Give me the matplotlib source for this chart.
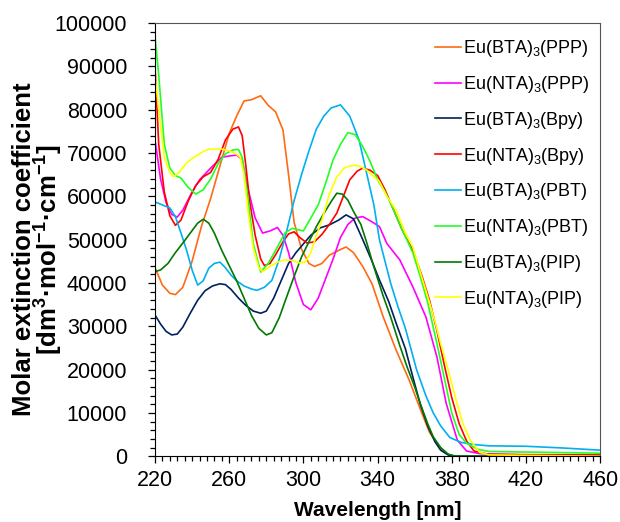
import matplotlib
matplotlib.use('Agg')
import matplotlib.pyplot as plt
from matplotlib.ticker import MultipleLocator

plt.rcParams['font.family'] = ['Liberation Sans', 'DejaVu Sans']
plt.rcParams['mathtext.fontset'] = 'custom'
plt.rcParams['mathtext.rm'] = 'Liberation Sans'
plt.rcParams['mathtext.bf'] = 'Liberation Sans:bold'

# values (wavelength nm, epsilon)
bta_ppp_x = [220, 224, 228, 231, 235, 240, 245, 250, 255, 260, 264, 268, 272, 277, 281, 285, 289, 292, 295, 299,
             303, 306, 310, 314, 319, 323, 327, 332, 337, 343, 350, 357, 364, 368, 372, 376, 379, 383, 390, 460]
bta_ppp_y = [43500, 39500, 37600, 37300, 39000, 45000, 53000, 59500, 67000, 74500, 78500, 82000, 82300, 83200,
             81000, 79500, 75300, 65000, 54000, 47800, 44500, 43800, 44500, 46400, 47500, 48300, 47000, 43800,
             39800, 32200, 24500, 17600, 9800, 5500, 2900, 1000, 200, 0, 0, 0]

nta_ppp_x = [220, 223, 226, 229, 232, 235, 240, 244, 250, 256, 260, 264, 267, 270, 274, 278, 282, 286, 289, 292,
             296, 300, 304, 308, 312, 316, 320, 324, 328, 332, 337, 341, 345, 352, 359, 366, 372, 377, 383, 388,
             395, 420, 460]
nta_ppp_y = [73000, 64000, 58500, 55800, 55200, 56800, 61000, 63800, 66500, 69000, 69300, 69500, 68500, 62000,
             55000, 51500, 52000, 52800, 51000, 47000, 40000, 35000, 33800, 36500, 41000, 45500, 50500, 53500,
             55000, 55300, 54100, 53000, 49100, 45300, 39100, 32200, 22900, 12200, 3700, 1200, 600, 300, 100]

bta_bpy_x = [220, 223, 226, 229, 232, 235, 239, 243, 247, 251, 255, 258, 261, 265, 269, 273, 277, 280, 284, 288,
             292, 296, 300, 304, 309, 314, 319, 323, 327, 332, 337, 341, 346, 350, 355, 359, 363, 367, 371, 374,
             378, 382, 460]
bta_bpy_y = [32600, 30500, 28800, 28000, 28200, 29800, 33000, 36000, 38200, 39300, 39800, 39600, 38500, 36500,
             34800, 33500, 33000, 33500, 36500, 40500, 44500, 47000, 49000, 51000, 52700, 53400, 54500, 55700,
             54800, 50000, 45000, 40700, 35700, 30700, 24800, 18300, 12000, 7000, 3300, 1400, 300, 0, 0]

nta_bpy_x = [220, 222, 225, 228, 231, 234, 238, 242, 246, 250, 254, 258, 262, 265, 267, 269, 271, 274, 277, 279,
             282, 285, 289, 292, 295, 298, 302, 306, 310, 314, 318, 322, 325, 329, 332, 336, 340, 344, 348, 353,
             359, 364, 368, 372, 376, 380, 384, 388, 392, 400, 460]
nta_bpy_y = [90000, 72000, 61000, 55500, 53300, 54500, 59000, 62500, 64500, 65500, 68500, 73000, 75500, 76000,
             74000, 67000, 59000, 51000, 45500, 44000, 44500, 46500, 49500, 51300, 51800, 50500, 49200, 49500,
             51200, 53500, 56100, 60500, 63800, 65800, 66500, 66000, 64800, 61500, 57500, 52500, 47500, 41500,
             36000, 29000, 21000, 13500, 7500, 3500, 1200, 400, 300]

bta_pbt_x = [220, 224, 228, 231, 234, 237, 240, 243, 246, 249, 252, 255, 258, 261, 264, 268, 272, 275, 279, 283,
             287, 291, 295, 299, 303, 307, 311, 315, 320, 325, 330, 334, 338, 341, 344, 347, 351, 355, 361, 366,
             370, 374, 379, 385, 392, 400, 420, 440, 460]
bta_pbt_y = [58700, 58000, 57300, 55300, 51500, 47600, 43000, 39500, 40500, 43400, 44500, 44800, 43500, 41800,
             40500, 39300, 38600, 38300, 39000, 40600, 45500, 52000, 59000, 65000, 70500, 75500, 78500, 80400,
             81100, 78500, 73000, 65500, 58000, 50000, 45000, 40000, 34500, 29500, 20000, 14000, 10000, 7000,
             4300, 3200, 2700, 2400, 2300, 1900, 1400]

nta_pbt_x = [220, 222, 225, 228, 231, 234, 238, 242, 246, 250, 254, 258, 262, 265, 267, 270, 273, 277, 281, 285,
             290, 294, 297, 300, 304, 308, 312, 316, 320, 324, 328, 332, 336, 340, 344, 348, 353, 359, 363, 367,
             372, 376, 380, 384, 388, 394, 400, 430, 460]
nta_pbt_y = [97000, 88000, 72000, 66500, 64800, 64200, 62000, 60500, 61500, 64000, 67500, 69800, 70700, 70800,
             69000, 60000, 49000, 42500, 44500, 47500, 51500, 52600, 52300, 52000, 55000, 58000, 63000, 68400,
             72000, 74700, 74200, 71500, 68000, 63800, 61000, 57500, 52500, 47000, 41500, 35500, 26000, 18000,
             10000, 5000, 3000, 1600, 1100, 900, 700]

bta_pip_x = [220, 223, 227, 231, 235, 239, 243, 246, 249, 252, 256, 260, 264, 268, 272, 276, 280, 283, 287, 291,
             295, 299, 303, 307, 311, 315, 318, 321, 324, 327, 331, 334, 338, 343, 347, 352, 356, 360, 363, 367,
             370, 374, 378, 382, 460]
bta_pip_y = [42600, 43000, 44500, 47000, 49200, 51500, 53800, 54700, 53800, 51500, 47500, 44000, 40500, 36500,
             32500, 29500, 28000, 28500, 32000, 36800, 41500, 46000, 49500, 53000, 56000, 58800, 60700, 60500,
             59100, 56500, 53500, 49500, 43700, 37000, 32200, 25500, 20500, 16000, 12200, 7500, 4500, 2000, 500,
             0, 0]

nta_pip_x = [220, 222, 225, 228, 230, 233, 237, 241, 246, 249, 253, 256, 260, 263, 266, 268, 270, 273, 276, 278,
             282, 286, 290, 294, 298, 301, 304, 307, 310, 314, 318, 322, 325, 328, 331, 334, 338, 341, 345, 350,
             355, 359, 363, 368, 371, 374, 378, 382, 386, 390, 395, 400, 460]
nta_pip_y = [88000, 80000, 69000, 65500, 64500, 65500, 67700, 69000, 70300, 70900, 70900, 70900, 70500, 70000,
             69000, 65000, 57000, 48000, 43500, 42600, 43800, 44800, 45300, 45200, 44600, 44800, 47000, 51000,
             54500, 60500, 64500, 66500, 67000, 67200, 66800, 66100, 64500, 63400, 60000, 56800, 51500, 48300,
             42500, 35500, 31000, 26000, 20000, 13500, 7500, 3700, 900, 300, 0]

x_ticks = [220, 260, 300, 340, 380, 420, 460]

names = ['Eu(BTA)$_3$(PPP)', 'Eu(NTA)$_3$(PPP)', 'Eu(BTA)$_3$(Bpy)', 'Eu(NTA)$_3$(Bpy)',
         'Eu(BTA)$_3$(PBT)', 'Eu(NTA)$_3$(PBT)', 'Eu(BTA)$_3$(PIP)', 'Eu(NTA)$_3$(PIP)']
colors = ['#FF6A13', '#FF00FF', '#002060', '#FF0000', '#00B0F0', '#22FF22', '#007A00', '#FFFF00']
series = [(bta_ppp_x, bta_ppp_y), (nta_ppp_x, nta_ppp_y), (bta_bpy_x, bta_bpy_y), (nta_bpy_x, nta_bpy_y),
          (bta_pbt_x, bta_pbt_y), (nta_pbt_x, nta_pbt_y), (bta_pip_x, bta_pip_y), (nta_pip_x, nta_pip_y)]

fig = plt.figure(figsize=(6.2, 5.22), dpi=100)
ax = fig.add_axes([0.25, 0.126, 0.718, 0.830])

for (x, y), name, c in zip(series, names, colors):
    ax.plot(x, y, color=c, lw=1.2, label=name)

ax.set_xlim(220, 460)
ax.set_ylim(0, 100000)
ax.set_xticks(x_ticks)
ax.xaxis.set_minor_locator(MultipleLocator(4))
ax.yaxis.set_major_locator(MultipleLocator(10000))
ax.yaxis.set_minor_locator(MultipleLocator(2000))
ax.tick_params(which='both', direction='out', labelsize=15.5, width=0.9)
ax.tick_params(which='major', length=5)
ax.tick_params(which='minor', length=3.5)
ax.tick_params(axis='x', which='major', pad=5)
ax.tick_params(axis='y', which='major', pad=15)
for s in ['top', 'right']:
    ax.spines[s].set_color('#555555')

ax.set_xlabel('Wavelength [nm]', fontsize=15, fontweight='bold', labelpad=7)
ax.set_ylabel('Molar extinction coefficient\n[dm$^\\mathbf{3}$·mol$^\\mathbf{-1}$·cm$^\\mathbf{-1}$]',
              fontsize=18.5, fontweight='bold', linespacing=0.78)
ax.yaxis.set_label_coords(-0.205, 0.478)

ax.legend(loc='upper left', bbox_to_anchor=(0.628, 0.965), frameon=False, fontsize=13,
          handlelength=1.45, handletextpad=0.15, labelspacing=0.82, borderpad=0, borderaxespad=0)

fig.savefig('out.png', dpi=100)
